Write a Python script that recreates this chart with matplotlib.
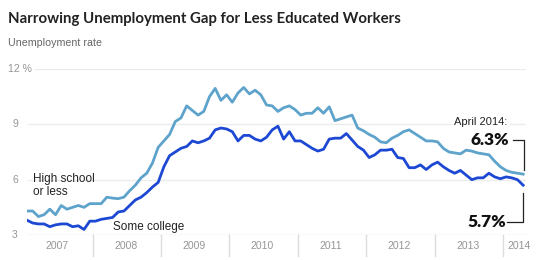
# encoding utf-8 #

import numpy as np
import matplotlib.pyplot as plt
from matplotlib.transforms import blended_transform_factory

# Monthly unemployment rate, January 2007 to April 2014 (in %)
high_school = [4.3, 4.3, 4.0, 4.1, 4.4, 4.1, 4.6, 4.4, 4.5, 4.6, 4.5, 4.7,
               4.7, 4.7, 5.05, 5.0, 4.97, 5.05, 5.4, 5.7, 6.1, 6.35, 6.9, 7.75,
               8.1, 8.45, 9.15, 9.35, 10.0, 9.75, 9.5, 9.7, 10.5, 10.95, 10.3, 10.6,
               10.2, 10.7, 11.0, 10.65, 10.85, 10.6, 10.05, 10.0, 9.7, 9.9, 10.0, 9.8,
               9.5, 9.6, 9.6, 9.9, 9.6, 9.95, 9.2, 9.3, 9.4, 9.5, 8.8, 8.65,
               8.45, 8.3, 8.05, 8.0, 8.25, 8.4, 8.6, 8.7, 8.5, 8.3, 8.1, 8.1,
               8.05, 7.7, 7.5, 7.45, 7.4, 7.6, 7.55, 7.45, 7.4, 7.35, 7.0, 6.7,
               6.5, 6.4, 6.35, 6.3]
some_college = [3.8, 3.65, 3.6, 3.6, 3.45, 3.55, 3.6, 3.6, 3.45, 3.5, 3.3, 3.75,
                3.75, 3.85, 3.9, 3.95, 4.25, 4.3, 4.6, 4.9, 5.05, 5.3, 5.6, 5.85,
                6.7, 7.3, 7.5, 7.7, 7.8, 8.1, 8.0, 8.1, 8.25, 8.7, 8.8, 8.75,
                8.6, 8.1, 8.4, 8.4, 8.2, 8.1, 8.3, 8.7, 8.9, 8.2, 8.6, 8.1,
                8.1, 7.9, 7.7, 7.55, 7.65, 8.2, 8.25, 8.25, 8.5, 8.15, 7.8, 7.6,
                7.2, 7.35, 7.6, 7.6, 7.65, 7.2, 7.15, 6.65, 6.65, 6.8, 6.55, 6.8,
                6.95, 6.7, 6.5, 6.35, 6.5, 6.25, 6.0, 6.1, 6.1, 6.35, 6.15, 6.05,
                6.15, 6.1, 6.0, 5.7]
years = ['2007', '2008', '2009', '2010', '2011', '2012', '2013', '2014']
y_ticks = [3, 6, 9, 12]
y_tick_labels = ['3', '6', '9', '12 %']

light_blue = '#5ea3cb'
dark_blue = '#1d48d3'
grey_text = '#959595'

months = np.arange(len(high_school))

fig = plt.figure(figsize=(5.51, 2.60), dpi=100)
ax = fig.add_axes([27 / 551, 25 / 260, 499 / 551, 166 / 260])
ax.set_xlim(0, 87.5)
ax.set_ylim(3, 12)
ax.axis('off')

# We draw the horizontal grid lines (the one at 12 % starts after its label)
for value in y_ticks[1:]:
    start = 1.4 if value == 12 else 0.15
    ax.plot([start, 87.5], [value, value], color='#ececec', lw=1, zorder=1)
ax.plot([0, 87.5], [3, 3], color='#dcdcdc', lw=1, zorder=1)

# Tick labels on the y axis
trans_y = blended_transform_factory(fig.transFigure, ax.transData)
for value, label in zip(y_ticks, y_tick_labels):
    if label.endswith('%'):
        fig.text(8 / 551, value, label, transform=trans_y, ha='left', va='center',
                 fontsize=7.5, color=grey_text, family='Liberation Sans')
    else:
        fig.text(15 / 551, value, label, transform=trans_y, ha='center', va='center',
                 fontsize=7.5, color=grey_text, family='Liberation Sans')

# Year separators and labels below the axis
trans_x = blended_transform_factory(ax.transData, ax.transAxes)
for i, year in enumerate(years):
    if i > 0:
        ax.plot([12 * i - 0.5, 12 * i - 0.5], [0, -0.125], color='#dcdcdc', lw=1,
                transform=trans_x, clip_on=False)
    centre = 86.3 if year == '2014' else 12 * i + 5.3
    ax.text(centre, -0.066, year, transform=trans_x, ha='center', va='center',
            fontsize=7.5, color=grey_text, family='Liberation Sans')

# The two series
ax.plot(months, high_school, color=light_blue, lw=2.0, zorder=3, solid_joinstyle='round')
ax.plot(months, some_college, color=dark_blue, lw=2.0, zorder=4, solid_joinstyle='round')

# Series labels
ax.text(1.05, 5.68, 'High school\nor less', ha='left', va='center', fontsize=8.5,
        color='#222222', family='Liberation Sans', linespacing=1.2)
ax.text(15.1, 3.45, 'Some college', ha='left', va='center', fontsize=8.5,
        color='#222222', family='Liberation Sans')

# Annotation for April 2014
ax.text(79.6, 9.13, 'April 2014:', ha='center', va='center', fontsize=8, color='#222222',
        family='Liberation Sans', zorder=5,
        bbox=dict(facecolor='white', edgecolor='none', pad=1.5))
ax.text(84.6, 8.15, '6.3%', ha='right', va='center', fontsize=12.5, fontweight='heavy',
        color='#111111', family='Lato')
ax.text(84.0, 3.70, '5.7%', ha='right', va='center', fontsize=12.5, fontweight='heavy',
        color='#111111', family='Lato')
ax.plot([85.3, 87.2, 87.2], [8.15, 8.15, 6.52], color='#222222', lw=0.9, clip_on=False)
ax.plot([87.0, 87.0, 84.2], [5.28, 3.70, 3.70], color='#222222', lw=0.9, clip_on=False)

# Title and subtitle
fig.text(8 / 551, 1 - 19 / 260, 'Narrowing Unemployment Gap for Less Educated Workers',
         ha='left', va='center', fontsize=10.8, fontweight='bold', color='#222222', family='Lato')
fig.text(8 / 551, 1 - 43 / 260, 'Unemployment rate', ha='left', va='center', fontsize=7.7,
         color='#666666', family='Liberation Sans')

plt.savefig('out.png', dpi=100)
plt.close(fig)
